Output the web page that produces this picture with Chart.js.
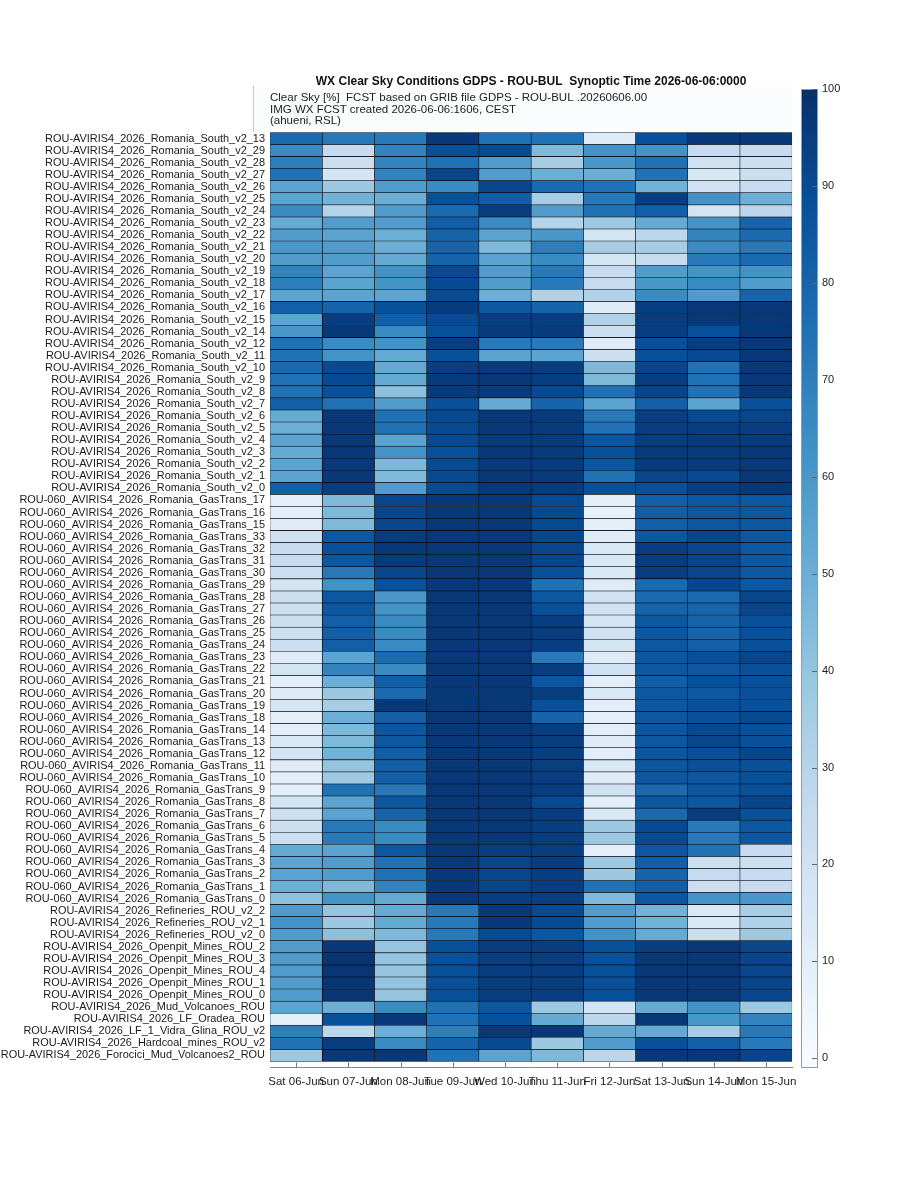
<!DOCTYPE html>
<html>
<head>
<meta charset="utf-8">
<title>WX Clear Sky Conditions GDPS - ROU-BUL</title>
<script src="https://cdn.jsdelivr.net/npm/chart.js@4.4.1/dist/chart.umd.min.js"></script>
<style>
  body { margin: 0; background: #fff; }
  #wrap { position: relative; width: 923px; height: 1200px; }
  #heatmap { position: absolute; left: 0; top: 0; }
  #colorbar { position: absolute; left: 790px; top: 0; }
</style>
</head>
<body>
<div id="wrap">
  <canvas id="heatmap" width="804" height="1100"></canvas>
  <canvas id="colorbar" width="68" height="1100"></canvas>
</div>
<script>
// WX clear sky heatmap

const dateLabels = ['Sat 06-Jun', 'Sun 07-Jun', 'Mon 08-Jun', 'Tue 09-Jun', 'Wed 10-Jun',
  'Thu 11-Jun', 'Fri 12-Jun', 'Sat 13-Jun', 'Sun 14-Jun', 'Mon 15-Jun'];

const southIds = [13, 29, 28, 27, 26, 25, 24, 23, 22, 21, 20, 19, 18, 17, 16, 15, 14, 12, 11, 10, 9, 8, 7, 6, 5, 4, 3, 2, 1, 0];
const gasTransIds = [17, 16, 15, 33, 32, 31, 30, 29, 28, 27, 26, 25, 24, 23, 22, 21, 20, 19, 18, 14, 13, 12, 11, 10, 9, 8, 7, 6, 5, 4, 3, 2, 1, 0];
const otherLabels = [
  'ROU-AVIRIS4_2026_Refineries_ROU_v2_2',
  'ROU-AVIRIS4_2026_Refineries_ROU_v2_1',
  'ROU-AVIRIS4_2026_Refineries_ROU_v2_0',
  'ROU-AVIRIS4_2026_Openpit_Mines_ROU_2',
  'ROU-AVIRIS4_2026_Openpit_Mines_ROU_3',
  'ROU-AVIRIS4_2026_Openpit_Mines_ROU_4',
  'ROU-AVIRIS4_2026_Openpit_Mines_ROU_1',
  'ROU-AVIRIS4_2026_Openpit_Mines_ROU_0',
  'ROU-AVIRIS4_2026_Mud_Volcanoes_ROU',
  'ROU-AVIRIS4_2026_LF_Oradea_ROU',
  'ROU-AVIRIS4_2026_LF_1_Vidra_Glina_ROU_v2',
  'ROU-AVIRIS4_2026_Hardcoal_mines_ROU_v2',
  'ROU-AVIRIS4_2026_Forocici_Mud_Volcanoes2_ROU'
];

// clear sky [%] per site, one entry per forecast day
const southValues = [
  [78, 72, 72, 97, 75, 75, 12, 88, 97, 97],
  [65, 25, 68, 88, 90, 45, 62, 62, 25, 25],
  [70, 22, 68, 75, 58, 35, 60, 75, 20, 22],
  [75, 18, 68, 92, 58, 50, 50, 75, 15, 22],
  [55, 38, 58, 65, 92, 78, 75, 48, 20, 25],
  [55, 48, 50, 88, 82, 35, 72, 95, 62, 50],
  [65, 30, 58, 78, 95, 58, 75, 82, 18, 28],
  [52, 58, 58, 82, 65, 30, 38, 52, 62, 80],
  [58, 55, 50, 80, 55, 60, 18, 28, 68, 78],
  [60, 58, 50, 80, 45, 70, 35, 35, 65, 72],
  [58, 58, 52, 80, 55, 65, 18, 25, 72, 78],
  [68, 55, 62, 90, 58, 72, 25, 58, 62, 62],
  [70, 55, 62, 90, 58, 72, 25, 60, 65, 58],
  [55, 55, 55, 90, 50, 32, 32, 65, 58, 80],
  [82, 80, 88, 96, 85, 80, 12, 95, 97, 97],
  [55, 95, 82, 90, 95, 95, 32, 95, 97, 97],
  [60, 97, 65, 88, 96, 96, 22, 95, 88, 97],
  [75, 65, 62, 95, 72, 72, 12, 88, 95, 97],
  [75, 62, 52, 88, 55, 55, 22, 88, 90, 97],
  [78, 90, 52, 95, 96, 95, 45, 92, 75, 97],
  [75, 90, 52, 96, 97, 95, 45, 95, 75, 97],
  [75, 88, 42, 96, 96, 90, 75, 92, 75, 97],
  [82, 75, 58, 88, 52, 80, 55, 82, 55, 88],
  [52, 97, 75, 90, 97, 96, 72, 95, 90, 92],
  [50, 97, 75, 90, 97, 96, 75, 95, 95, 95],
  [55, 97, 55, 90, 96, 96, 85, 95, 96, 96],
  [52, 97, 62, 88, 97, 96, 88, 96, 96, 97],
  [55, 97, 45, 90, 97, 96, 85, 96, 96, 97],
  [55, 97, 45, 90, 97, 96, 75, 92, 90, 97],
  [82, 95, 58, 90, 97, 96, 88, 88, 95, 97]
];

const gasTransValues = [
  [10, 45, 92, 97, 97, 90, 10, 82, 85, 85],
  [10, 45, 92, 97, 97, 90, 8, 82, 85, 85],
  [12, 45, 92, 97, 97, 90, 10, 82, 85, 85],
  [20, 85, 96, 97, 97, 92, 12, 85, 92, 85],
  [25, 88, 97, 97, 97, 92, 15, 95, 92, 85],
  [25, 85, 96, 97, 97, 92, 15, 95, 92, 85],
  [22, 72, 92, 97, 97, 88, 15, 95, 92, 85],
  [18, 62, 88, 97, 97, 75, 12, 78, 92, 85],
  [22, 85, 60, 97, 97, 85, 20, 78, 78, 92],
  [22, 85, 62, 97, 97, 88, 20, 80, 80, 92],
  [22, 82, 65, 97, 97, 95, 18, 85, 80, 88],
  [22, 82, 65, 97, 97, 95, 20, 85, 80, 88],
  [22, 82, 65, 97, 97, 95, 18, 85, 82, 88],
  [12, 55, 78, 97, 97, 72, 12, 85, 88, 92],
  [18, 68, 65, 97, 97, 95, 20, 85, 85, 88],
  [10, 50, 82, 97, 97, 85, 10, 82, 88, 88],
  [12, 38, 78, 97, 97, 95, 15, 85, 85, 88],
  [18, 35, 97, 97, 97, 88, 10, 85, 88, 88],
  [10, 50, 82, 97, 97, 80, 10, 85, 88, 90],
  [10, 45, 85, 97, 97, 95, 10, 85, 90, 88],
  [15, 45, 85, 97, 97, 95, 12, 85, 92, 88],
  [18, 48, 82, 97, 97, 95, 10, 85, 88, 92],
  [12, 40, 82, 97, 97, 95, 15, 85, 88, 88],
  [10, 38, 82, 97, 97, 95, 12, 85, 85, 88],
  [10, 75, 72, 97, 97, 95, 20, 78, 85, 88],
  [18, 55, 85, 97, 97, 90, 10, 85, 85, 92],
  [22, 55, 80, 97, 97, 95, 15, 78, 95, 88],
  [22, 72, 65, 97, 97, 95, 38, 90, 72, 85],
  [22, 72, 65, 97, 97, 95, 38, 90, 72, 85],
  [52, 55, 85, 97, 95, 95, 10, 85, 75, 25],
  [55, 58, 75, 97, 92, 95, 38, 82, 22, 22],
  [55, 58, 75, 97, 92, 95, 38, 80, 25, 25],
  [50, 45, 68, 97, 92, 95, 75, 82, 22, 25],
  [42, 62, 52, 97, 95, 95, 45, 85, 62, 60]
];

const otherValues = [
  [58, 40, 52, 72, 97, 90, 58, 48, 15, 35],
  [62, 38, 52, 72, 97, 90, 58, 48, 15, 32],
  [58, 42, 45, 72, 90, 85, 62, 52, 22, 38],
  [58, 97, 40, 88, 95, 95, 88, 95, 97, 92],
  [58, 98, 40, 88, 95, 95, 88, 97, 97, 92],
  [58, 98, 40, 88, 95, 95, 88, 97, 97, 92],
  [58, 98, 40, 88, 95, 95, 88, 97, 97, 92],
  [58, 98, 40, 88, 95, 95, 88, 97, 97, 92],
  [55, 50, 65, 75, 85, 38, 18, 52, 62, 38],
  [10, 88, 97, 75, 88, 52, 28, 97, 60, 68],
  [70, 28, 50, 70, 97, 97, 52, 52, 35, 72],
  [75, 95, 65, 80, 90, 38, 58, 88, 82, 72],
  [38, 97, 97, 75, 55, 45, 28, 97, 97, 92]
];

const colorbarTicks = [0, 10, 20, 30, 40, 50, 60, 70, 80, 90, 100];

const rowLabels = southIds.map(n => 'ROU-AVIRIS4_2026_Romania_South_v2_' + n)
  .concat(gasTransIds.map(n => 'ROU-060_AVIRIS4_2026_Romania_GasTrans_' + n))
  .concat(otherLabels);
const rowValues = southValues.concat(gasTransValues, otherValues);

// Blues colormap, light (0) to dark (100)
const blues = ['#f7fbff', '#deebf7', '#c6dbef', '#9ecae1', '#6baed6', '#4292c6', '#2171b5', '#08519c', '#08306b'];

function hexToRgb(h) {
  return [parseInt(h.slice(1, 3), 16), parseInt(h.slice(3, 5), 16), parseInt(h.slice(5, 7), 16)];
}

function colorFor(v) {
  const t = Math.max(0, Math.min(1, v / 100)) * (blues.length - 1);
  const i = Math.min(Math.floor(t), blues.length - 2);
  const f = t - i;
  const a = hexToRgb(blues[i]);
  const b = hexToRgb(blues[i + 1]);
  const c = a.map((x, k) => Math.round(x + (b[k] - x) * f));
  return 'rgb(' + c.join(',') + ')';
}

const fontFamily = '"Liberation Sans", Arial, Helvetica, sans-serif';

// header panel + inward ticks on the time axis
const headerPanel = {
  id: 'headerPanel',
  beforeDraw(chart) {
    const c = chart.ctx;
    const area = chart.chartArea;
    c.save();
    c.fillStyle = '#fbfcfe';
    c.fillRect(253, 86, area.right - 253, area.top + 6 - 86);
    c.strokeStyle = '#c4c4c4';
    c.lineWidth = 1;
    c.beginPath();
    c.moveTo(253.5, 86);
    c.lineTo(253.5, area.top + 5);
    c.stroke();
    c.restore();
  },
  afterDraw(chart) {
    const c = chart.ctx;
    const x = chart.scales.x;
    const bottom = chart.chartArea.bottom;
    c.save();
    c.strokeStyle = '#777';
    c.lineWidth = 1;
    x.ticks.forEach(t => {
      const px = Math.round(x.getPixelForValue(t.value)) + 0.5;
      c.beginPath();
      c.moveTo(px, bottom);
      c.lineTo(px, bottom - 5);
      c.stroke();
    });
    c.restore();
  }
};

const heatmapCtx = document.getElementById('heatmap');
new Chart(heatmapCtx, {
  type: 'bar',
  data: {
    datasets: dateLabels.map((d, j) => ({
      label: d,
      data: rowValues.map((r, i) => ({ x: [j, j + 1], y: i })),
      backgroundColor: rowValues.map(r => colorFor(r[j])),
      borderColor: '#05070f',
      borderWidth: 0.6,
      borderSkipped: false,
      grouped: false,
      barPercentage: 1,
      categoryPercentage: 1
    }))
  },
  options: {
    indexAxis: 'y',
    responsive: false,
    animation: false,
    layout: {
      padding: { top: 70, right: 0, left: 0, bottom: 0 }
    },
    plugins: {
      legend: { display: false },
      tooltip: { enabled: false },
      title: {
        display: true,
        fullSize: false,
        text: 'WX Clear Sky Conditions GDPS - ROU-BUL  Synoptic Time 2026-06-06:0000',
        color: '#111',
        font: { family: fontFamily, size: 12, weight: 'bold', lineHeight: 1.2 },
        padding: { top: 4, bottom: 2 }
      },
      subtitle: {
        display: true,
        fullSize: false,
        align: 'start',
        text: [
          'Clear Sky [%]  FCST based on GRIB file GDPS - ROU-BUL .20260606.00',
          'IMG WX FCST created 2026-06-06:1606, CEST',
          '(ahueni, RSL)'
        ],
        color: '#222',
        font: { family: fontFamily, size: 11.5, lineHeight: 1.04 },
        padding: { top: 1, bottom: -0.8 }
      }
    },
    scales: {
      x: {
        type: 'linear',
        position: 'bottom',
        min: 0,
        max: 10,
        afterBuildTicks: scale => {
          scale.ticks = dateLabels.map((d, i) => ({ value: i + 0.5 }));
        },
        afterFit: scale => { scale.height = 32.5; },
        ticks: {
          autoSkip: false,
          maxRotation: 0,
          padding: 7,
          color: '#222',
          font: { family: fontFamily, size: 11.5 },
          callback: (value, index) => dateLabels[index]
        },
        grid: { display: true, drawOnChartArea: false, drawTicks: false },
        border: { display: true, color: '#888' }
      },
      y: {
        type: 'linear',
        reverse: true,
        offset: false,
        min: -1,
        max: rowLabels.length,
        afterBuildTicks: scale => {
          scale.ticks = rowLabels.map((l, i) => ({ value: i }));
        },
        afterFit: scale => { scale.width = 270; },
        ticks: {
          autoSkip: false,
          padding: 5,
          color: '#1a1a1a',
          font: { family: fontFamily, size: 10.95 },
          callback: (value, index) => rowLabels[index]
        },
        grid: { display: false, drawTicks: false },
        border: { display: false }
      }
    }
  },
  plugins: [headerPanel]
});

// Colorbar
const colorbarFrame = {
  id: 'colorbarFrame',
  afterDraw(chart) {
    const c = chart.ctx;
    const a = chart.chartArea;
    const y = chart.scales.y;
    c.save();
    c.strokeStyle = '#999';
    c.lineWidth = 1;
    c.strokeRect(a.left + 0.5, a.top + 0.5, a.right - a.left - 1, a.bottom - a.top - 1);
    c.strokeStyle = '#666';
    colorbarTicks.forEach(v => {
      const py = Math.round(y.getPixelForValue(v)) + 0.5;
      c.beginPath();
      c.moveTo(a.right - 1, py);
      c.lineTo(a.right - 6, py);
      c.stroke();
    });
    c.restore();
  }
};

const colorbarCtx = document.getElementById('colorbar');
new Chart(colorbarCtx, {
  type: 'bar',
  data: {
    labels: ['Clear Sky [%]'],
    datasets: [{
      data: [[-1, 100]],
      backgroundColor: function(context) {
        const chart = context.chart;
        if (!chart.chartArea) return blues[4];
        const y = chart.scales.y;
        const g = chart.ctx.createLinearGradient(0, y.getPixelForValue(0), 0, y.getPixelForValue(100));
        blues.forEach((col, k) => g.addColorStop(k / (blues.length - 1), col));
        return g;
      },
      borderWidth: 0,
      barPercentage: 1,
      categoryPercentage: 1
    }]
  },
  options: {
    responsive: false,
    animation: false,
    layout: {
      padding: { top: 89, bottom: 32, left: 11, right: 0 }
    },
    plugins: {
      legend: { display: false },
      tooltip: { enabled: false }
    },
    scales: {
      x: { display: false },
      y: {
        position: 'right',
        min: -1,
        max: 100,
        afterBuildTicks: scale => {
          scale.ticks = colorbarTicks.map(v => ({ value: v }));
        },
        afterFit: scale => { scale.width = 40; },
        ticks: {
          padding: 4,
          color: '#222',
          font: { family: fontFamily, size: 11 }
        },
        grid: { display: true, drawOnChartArea: false, drawTicks: false },
        border: { display: false }
      }
    }
  },
  plugins: [colorbarFrame]
});
</script>
</body>
</html>
